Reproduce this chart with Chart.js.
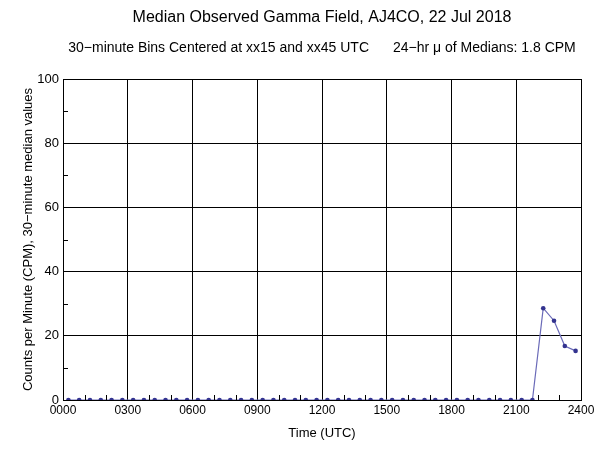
<!DOCTYPE html>
<html>
<head>
<meta charset="utf-8">
<script src="https://cdn.jsdelivr.net/npm/chart.js@4/dist/chart.umd.min.js"></script>
<style>
  html, body { margin: 0; padding: 0; background: #fff; }
  #wrap { width: 600px; height: 459px; }
</style>
</head>
<body>
<div id="wrap"><canvas id="gammaChart" width="600" height="459"></canvas></div>
<script>
(function () {
    'use strict';

    // bin centres (hours UTC) and 30-minute median values (CPM)
    var binHours = [
        0.25, 0.75, 1.25, 1.75, 2.25, 2.75, 3.25, 3.75, 4.25, 4.75, 5.25, 5.75,
        6.25, 6.75, 7.25, 7.75, 8.25, 8.75, 9.25, 9.75, 10.25, 10.75, 11.25, 11.75,
        12.25, 12.75, 13.25, 13.75, 14.25, 14.75, 15.25, 15.75, 16.25, 16.75, 17.25, 17.75,
        18.25, 18.75, 19.25, 19.75, 20.25, 20.75, 21.25, 21.75, 22.25, 22.75, 23.25, 23.75
    ];
    var medianCpm = [
        0, 0, 0, 0, 0, 0, 0, 0, 0, 0, 0, 0,
        0, 0, 0, 0, 0, 0, 0, 0, 0, 0, 0, 0,
        0, 0, 0, 0, 0, 0, 0, 0, 0, 0, 0, 0,
        0, 0, 0, 0, 0, 0, 0, 0, 28.6, 24.7, 16.8, 15.3
    ];
    var xTickLabels = ['0000', '0300', '0600', '0900', '1200', '1500', '1800', '2100', '2400'];
    var yTickLabels = ['0', '20', '40', '60', '80', '100'];

    var titleText = 'Median Observed Gamma Field, AJ4CO, 22 Jul 2018';
    var subtitleLeft = '30\u2212minute Bins Centered at xx15 and xx45 UTC';
    var subtitleRight = '24\u2212hr \u03bc of Medians: 1.8 CPM';

    var FONT = '"Liberation Sans", Arial, sans-serif';

    // titles centred over the plot area, minor ticks on the axes
    var decorations = {
        id: 'decorations',
        afterDraw: function (chart) {
            var ctx = chart.ctx;
            var area = chart.chartArea;
            var cx = (area.left + area.right) / 2;
            var xs = chart.scales.x, ys = chart.scales.y;
            ctx.save();
            ctx.fillStyle = '#000';
            ctx.textAlign = 'center';
            ctx.textBaseline = 'middle';
            ctx.font = '16px ' + FONT;
            ctx.fillText(titleText, cx, 18);
            ctx.font = '14px ' + FONT;
            var gap = 24;
            var wl = ctx.measureText(subtitleLeft).width;
            var wr = ctx.measureText(subtitleRight).width;
            var start = cx - (wl + gap + wr) / 2;
            ctx.textAlign = 'left';
            ctx.fillText(subtitleLeft, start, 48);
            ctx.fillText(subtitleRight, start + wl + gap, 48);

            ctx.strokeStyle = '#000';
            ctx.lineWidth = 1;
            ctx.beginPath();
            for (var h = 1; h < 24; h++) {
                if (h % 3 === 0) continue;
                var px = Math.round(xs.getPixelForValue(h)) + 0.5;
                ctx.moveTo(px, area.bottom);
                ctx.lineTo(px, area.bottom - 5);
            }
            for (var v = 10; v < 100; v += 20) {
                var py = Math.round(ys.getPixelForValue(v)) + 0.5;
                ctx.moveTo(area.left, py);
                ctx.lineTo(area.left + 5, py);
            }
            ctx.stroke();
            ctx.restore();
        }
    };

    var points = binHours.map(function (h, i) { return { x: h, y: medianCpm[i] }; });

    new Chart(document.getElementById('gammaChart'), {
        type: 'scatter',
        data: {
            datasets: [{
                data: points,
                showLine: true,
                borderColor: '#6a6ab8',
                borderWidth: 1.2,
                pointBackgroundColor: '#33338f',
                pointBorderColor: '#33338f',
                pointRadius: 2.3,
                pointBorderWidth: 0,
                tension: 0
            }]
        },
        options: {
            responsive: false,
            animation: false,
            layout: { padding: { top: 79, right: 19, left: 21, bottom: 18 } },
            plugins: {
                legend: { display: false },
                tooltip: { enabled: false }
            },
            scales: {
                x: {
                    type: 'linear',
                    min: 0,
                    max: 24,
                    afterBuildTicks: function (scale) {
                        scale.ticks = xTickLabels.map(function (_, i) { return { value: i * 3 }; });
                    },
                    ticks: {
                        color: '#000',
                        font: { family: FONT, size: 12 },
                        padding: 3,
                        maxRotation: 0,
                        callback: function (value, index) { return xTickLabels[index]; }
                    },
                    grid: { color: '#000', lineWidth: 1, drawTicks: false },
                    border: { color: '#000', width: 1 },
                    title: {
                        display: true,
                        text: 'Time (UTC)',
                        color: '#000',
                        font: { family: FONT, size: 13 },
                        padding: { top: 4, bottom: 0 }
                    },
                    afterFit: function (scale) { scale.height = 41; }
                },
                y: {
                    min: 0,
                    max: 100,
                    afterBuildTicks: function (scale) {
                        scale.ticks = yTickLabels.map(function (_, i) { return { value: i * 20 }; });
                    },
                    ticks: {
                        color: '#000',
                        font: { family: FONT, size: 13 },
                        padding: 4,
                        callback: function (value, index) { return yTickLabels[index]; }
                    },
                    grid: { color: '#000', lineWidth: 1, drawTicks: false },
                    border: { color: '#000', width: 1 },
                    title: {
                        display: true,
                        text: 'Counts per Minute (CPM), 30\u2212minute median values',
                        color: '#000',
                        font: { family: FONT, size: 13 },
                        padding: { top: 0, bottom: 2 }
                    },
                    afterFit: function (scale) { scale.width = 42; }
                }
            }
        },
        plugins: [decorations]
    });
})();
</script>
</body>
</html>
